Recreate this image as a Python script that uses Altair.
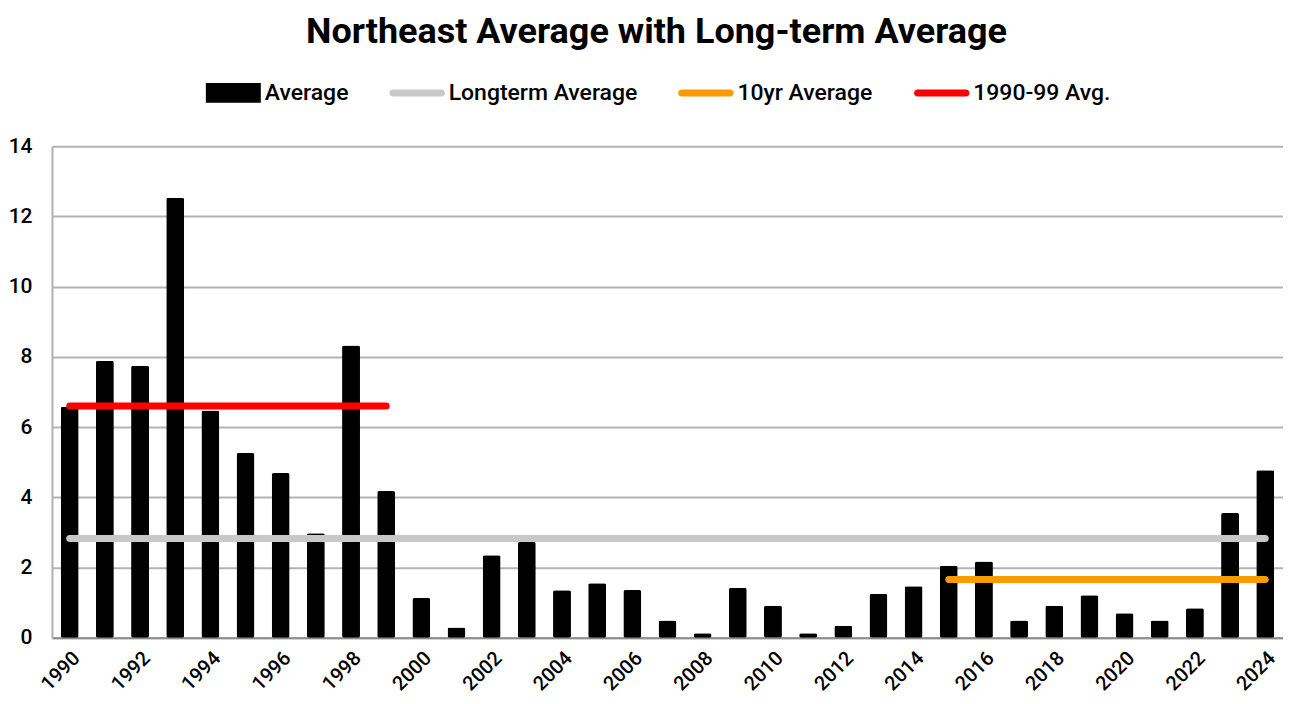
import altair as alt
import pandas as pd

years = list(range(1990, 2025))
average = [6.58, 7.89, 7.75, 12.53, 6.47, 5.26, 4.69, 2.98, 8.32, 4.18,
           1.13, 0.29, 2.35, 2.73, 1.35, 1.55, 1.36, 0.49, 0.13, 1.42,
           0.91, 0.13, 0.34, 1.25, 1.47, 2.05, 2.17, 0.49, 0.91, 1.21,
           0.70, 0.49, 0.84, 3.55, 4.77]

series_names = ["Average", "Longterm Average", "10yr Average", "1990-99 Avg."]
series_colors = ["#000000", "#c8c8c8", "#ff9900", "#ff0000"]

line_series = ["Longterm Average", "10yr Average", "1990-99 Avg."]
line_start = [1990, 2015, 1990]
line_end = [2024, 2024, 1999]
line_value = [2.83, 1.66, 6.60]

y_ticks = [0, 2, 4, 6, 8, 10, 12, 14]
x_label_years = [y for y in years if y % 2 == 0]

FONT = "Roboto, Liberation Sans, sans-serif"

bars_df = pd.DataFrame({"year": years, "value": average, "series": "Average"})
lines_df = pd.DataFrame({"series": line_series, "start": line_start,
                         "end": line_end, "value": line_value})
legend_df = pd.DataFrame({"series": series_names})

rect_path = "M-1,-0.36H1V0.36H-1Z"
line_path = "M-0.88,-0.13H0.88A0.13,0.13 0 0 1 0.88,0.13H-0.88A0.13,0.13 0 0 1 -0.88,-0.13Z"

color_scale = alt.Scale(domain=series_names, range=series_colors)
legend = alt.Legend(
    title=None, orient="none", direction="horizontal",
    legendX=154, legendY=-81,
    labelFont=FONT, labelFontSize=23, labelFontWeight=500, labelColor="#000000",
    labelLimit=0,
    symbolSize=3025, symbolStrokeWidth=0, symbolOpacity=1,
    labelOffset=4, columnPadding=40, padding=0,
)

x_enc = alt.X("year:O", title=None,
              scale=alt.Scale(domain=years, paddingInner=0.49, paddingOuter=0.25),
              axis=alt.Axis(values=x_label_years, labelAngle=-45, labelFont=FONT,
                            labelFontSize=20, labelFontWeight=500,
                            labelColor="#000000", ticks=False,
                            labelPadding=10, domainColor="#8c8c8c", domainWidth=2,
                            grid=False))

bars = alt.Chart(bars_df).mark_bar(cornerRadius=2).encode(
    x=x_enc,
    y=alt.Y("value:Q", title=None,
            scale=alt.Scale(domain=[0, 14], nice=False),
            axis=alt.Axis(values=y_ticks, labelFont=FONT, labelFontSize=21,
                          labelFontWeight=500,
                          labelColor="#000000", ticks=False, labelPadding=20,
                          domainColor="#b0b0b0", domainWidth=2,
                          gridColor="#b3b3b3", gridWidth=2)),
    color=alt.Color("series:N", scale=color_scale, legend=legend),
)

rules = alt.Chart(lines_df).mark_rule(strokeWidth=7, strokeCap="round").encode(
    x=alt.X("start:O"),
    x2="end:O",
    y="value:Q",
    color=alt.Color("series:N", scale=color_scale, legend=legend),
)

legend_pts = alt.Chart(legend_df).mark_point(filled=True, opacity=0).encode(
    color=alt.Color("series:N", scale=color_scale, legend=legend),
    shape=alt.Shape("series:N",
                    scale=alt.Scale(domain=series_names,
                                    range=[rect_path, line_path, line_path, line_path]),
                    legend=legend),
)

chart = alt.layer(bars, rules, legend_pts).properties(
    width=1232, height=492,
    autosize=alt.AutoSizeParams(type="none"),
    padding={"left": 44, "top": 138, "right": 0, "bottom": 58},
    title=alt.Title("Northeast Average with Long-term Average", font=FONT,
                    fontSize=36, fontWeight="bold", color="#000000",
                    anchor="middle", offset=14, dx=-11),
).configure_view(stroke=None).configure_legend(symbolOpacity=1)

chart.save("out.html", embed_options={"renderer": "svg", "actions": False})
